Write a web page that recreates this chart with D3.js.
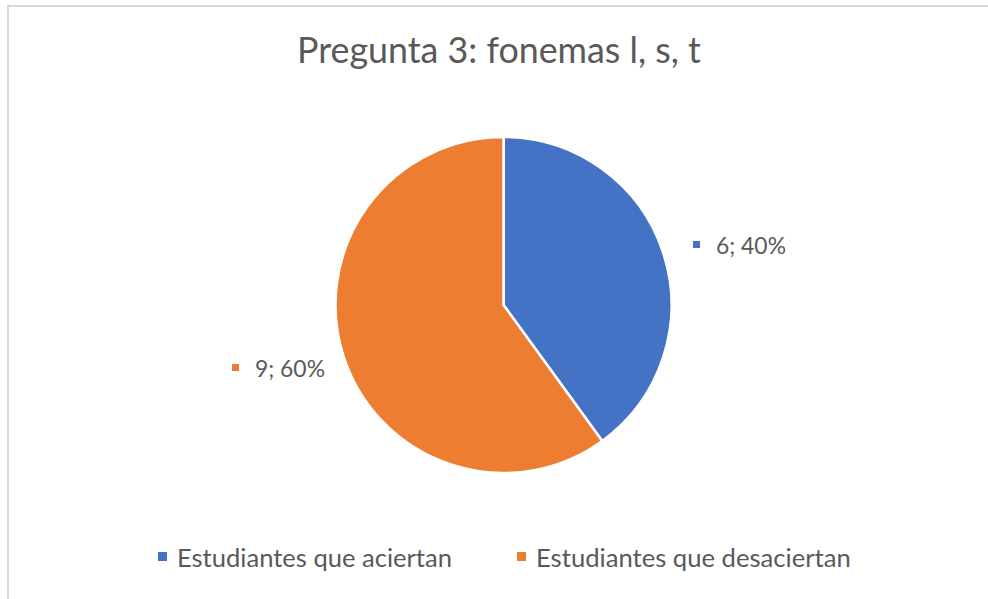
<!DOCTYPE html>
<html>
<head>
<meta charset="utf-8">
<script src="https://cdn.jsdelivr.net/npm/d3@7"></script>
<style>
  body { margin: 0; background: #fff; }
  text { font-family: Lato, "Open Sans", sans-serif; fill: #595959; }
</style>
</head>
<body>
<script>
var svgWidth = 988;
var svgHeight = 599;

// chart data
var categories = ["Estudiantes que aciertan", "Estudiantes que desaciertan"];
var values = [6, 9];
var colors = ["#4472C4", "#ED7D31"];
var title = "Pregunta 3: fonemas l, s, t";

var total = d3.sum(values);

var svg = d3.select("body")
  .append("svg")
  .attr("width", svgWidth)
  .attr("height", svgHeight);

// chart frame (only top/left visible in the crop)
svg.append("rect")
  .attr("x", 8)
  .attr("y", 6)
  .attr("width", 1000)
  .attr("height", 700)
  .attr("fill", "none")
  .attr("stroke", "#d9d9d9")
  .attr("stroke-width", 2);

// shrink/grow text so it spans roughly the width seen in the picture
function fitText(sel, targetWidth, baseSize) {
  sel.style("font-size", baseSize + "px");
  var w = sel.node().getComputedTextLength();
  sel.style("font-size", (baseSize * targetWidth / w) + "px");
}

var titleText = svg.append("text")
  .attr("x", 499)
  .attr("y", 63)
  .attr("text-anchor", "middle")
  .text(title);
fitText(titleText, 404, 28);

// pie
var cx = 503.5, cy = 305, radius = 168;

var pie = d3.pie().sort(null).value(d => d);
var arc = d3.arc().innerRadius(0).outerRadius(radius);

var pieGroup = svg.append("g")
  .attr("transform", `translate(${cx}, ${cy})`);

pieGroup.selectAll("path")
  .data(pie(values))
  .enter()
  .append("path")
  .attr("d", arc)
  .attr("fill", (d, i) => colors[i])
  .attr("stroke", "#fff")
  .attr("stroke-width", 2.5);

// data labels outside the pie
var labelPos = [[693, 241], [232, 364]];
var labels = svg.selectAll(".dlabel")
  .data(pie(values))
  .enter()
  .append("g")
  .attr("class", "dlabel")
  .attr("transform", (d, i) => `translate(${labelPos[i][0]}, ${labelPos[i][1]})`);

labels.append("rect")
  .attr("width", 7)
  .attr("height", 7)
  .attr("fill", (d, i) => colors[i]);

labels.append("text")
  .attr("x", 23)
  .attr("y", 13)
  .text(d => d.data + "; " + d3.format(".0%")(d.data / total))
  .each(function() { fitText(d3.select(this), 70, 18); });

// legend
var legendPos = [158, 517];
var legendWidths = [275, 315];
var legend = svg.selectAll(".legend")
  .data(categories)
  .enter()
  .append("g")
  .attr("class", "legend")
  .attr("transform", (d, i) => `translate(${legendPos[i]}, 552)`);

legend.append("rect")
  .attr("width", 9)
  .attr("height", 9)
  .attr("fill", (d, i) => colors[i]);

legend.append("text")
  .attr("x", 19)
  .attr("y", 15)
  .text(d => d)
  .each(function(d, i) { fitText(d3.select(this), legendWidths[i], 20); });
</script>
</body>
</html>
